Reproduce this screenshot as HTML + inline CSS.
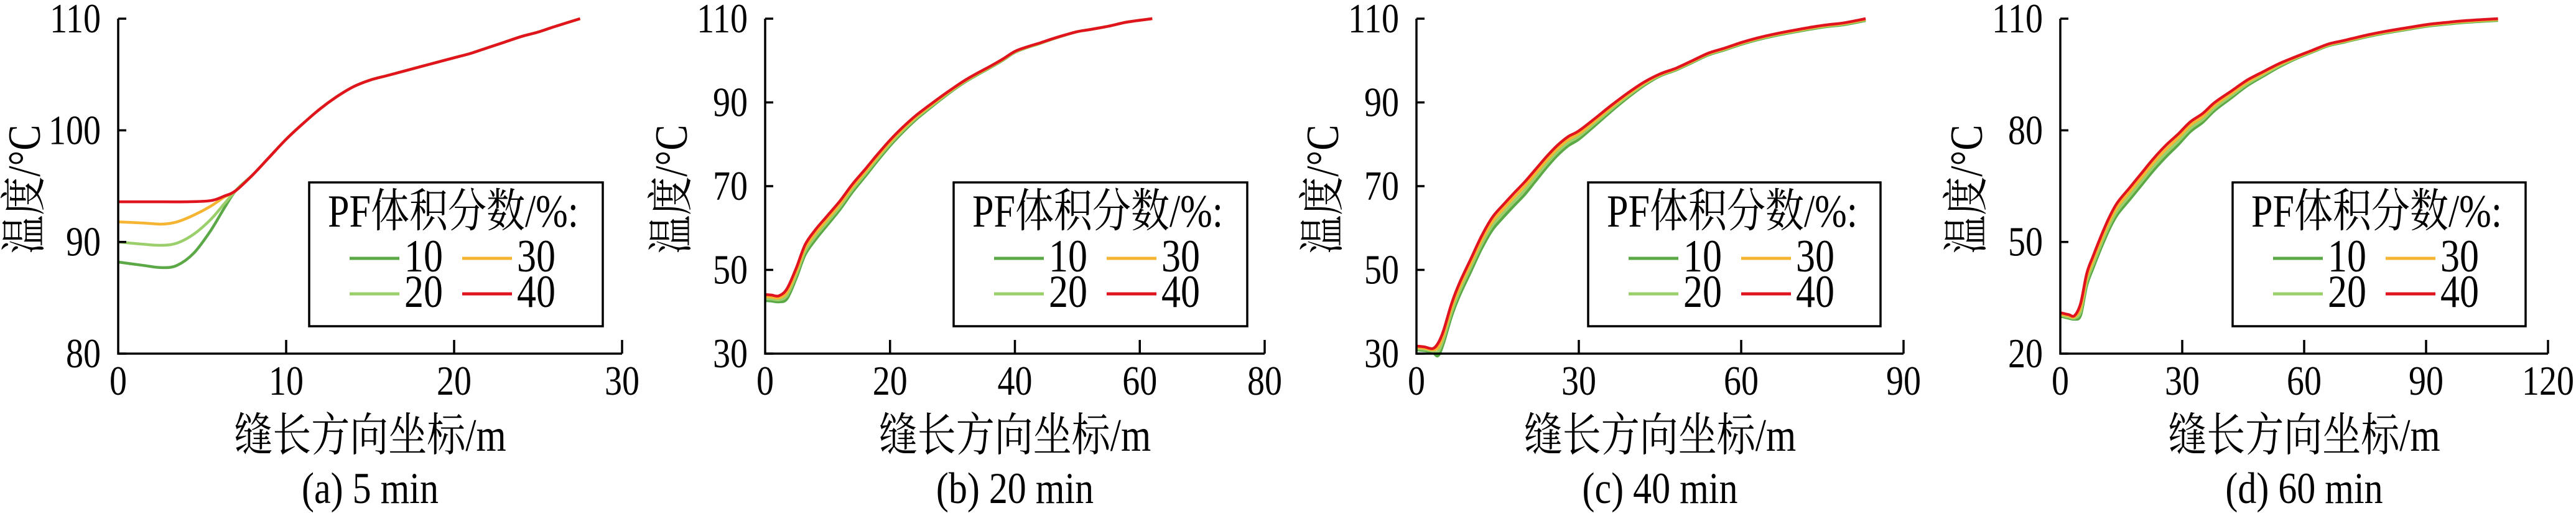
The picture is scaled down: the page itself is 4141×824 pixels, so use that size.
<!DOCTYPE html>
<html><head><meta charset="utf-8"><style>
html,body{margin:0;padding:0;background:#fff}
svg{display:block}
text{font-family:"Liberation Serif","Noto Serif CJK SC",serif;fill:#000}
</style></head><body>
<svg id="s" width="4141" height="824" viewBox="0 0 4141 824" xmlns="http://www.w3.org/2000/svg"></svg>
<script>
const S=document.getElementById('s');let h='';
const cols=['#5aa846','#9bcf6b','#f5b532','#e0141e'];
function T(x,y,fs,anchor,str,rot){const k=0.84;
 if(rot) return `<text transform="translate(${x},${y}) rotate(-90) scale(${k},1)" font-size="${fs/k}" text-anchor="${anchor}">${str}</text>`;
 return `<text transform="translate(${x},${y}) scale(${k},1)" font-size="${fs/k}" text-anchor="${anchor}">${str}</text>`;}
function cr(p){let d='M'+p[0][0].toFixed(1)+' '+p[0][1].toFixed(1);
for(let i=0;i<p.length-1;i++){const p0=p[i-1]||p[i],p1=p[i],p2=p[i+1],p3=p[i+2]||p2;
d+=' C'+(p1[0]+(p2[0]-p0[0])/6).toFixed(1)+' '+(p1[1]+(p2[1]-p0[1])/6).toFixed(1)+' '+(p2[0]-(p3[0]-p1[0])/6).toFixed(1)+' '+(p2[1]-(p3[1]-p1[1])/6).toFixed(1)+' '+p2[0].toFixed(1)+' '+p2[1].toFixed(1);}
return d;}
function panel(o){
 const X=v=>o.ax+v/o.xmax*(o.ar-o.ax), Y=v=>568-(v-o.ymin)/(o.ymax-o.ymin)*538;
 o.series.forEach((pts,k)=>{h+=`<path d="${cr(pts.map(q=>[X(q[0]),Y(q[1])]))}" fill="none" stroke="${cols[k]}" stroke-width="4.5" stroke-linejoin="round"/>`;});
 h+=`<path d="M${o.ax} 30 V568 H${o.ar}" fill="none" stroke="#000" stroke-width="3.5"/>`;
 o.yt.forEach(v=>{const y=Y(v);h+=`<line x1="${o.ax}" y1="${y}" x2="${o.ax+13}" y2="${y}" stroke="#000" stroke-width="3.5"/>`+T(o.ax-28,y+22,56,'end',v);});
 o.xt.forEach(v=>{const x=X(v);if(v>0)h+=`<line x1="${x}" y1="568" x2="${x}" y2="546" stroke="#000" stroke-width="3.5"/>`;h+=T(x,634,56,'middle',v);});
 const cx=(o.ax+o.ar)/2;
 h+=T(cx,724,62,'middle','缝长方向坐标/m');
 h+=T(cx,808,60,'middle',o.cap);
 h+=T(o.ax-126,304,62,'middle','温度/°C',true);
 const L=o.lx,R=o.lr;
 h+=`<rect x="${L}" y="293" width="${R-L}" height="231" fill="#fff" stroke="#000" stroke-width="3.5"/>`;
 h+=T(L+30,364,62,'start','PF体积分数/%:');
 const it=[[0,'10',0,0],[1,'20',0,1],[2,'30',1,0],[3,'40',1,1]];
 it.forEach(([k,t,c,r])=>{const x0=L+65+c*181,y=415+r*57;
 h+=`<line x1="${x0}" y1="${y}" x2="${x0+80}" y2="${y}" stroke="${cols[k]}" stroke-width="5"/>`+T(x0+88,y+21,62,'start',t);});
}
function shift(base,amt,f){return base.map(([x,y])=>[x,y-amt*f(x)]);}
const comA=[[7,94.6],[8,96],[9,97.6],[10,99.2],[11,100.6],[12,101.9],[13,103],[14,103.9],[15,104.5],[16,104.9],[17,105.3],[18,105.7],[19,106.1],[20,106.5],[21,106.9],[22,107.4],[23,107.9],[24,108.4],[25,108.8],[26,109.3],[27.5,110]];
panel({ax:190,ar:1000,xmax:30,ymin:80,ymax:110,yt:[80,90,100,110],xt:[0,10,20,30],lx:497,lr:969,cap:'(a) 5 min',series:[
 [[0,88.2],[1.5,87.9],[2.6,87.7],[3.5,87.9],[4.5,89],[5.5,91],[6.3,93]].concat(comA),
 [[0,90.0],[1.5,89.8],[2.6,89.7],[3.5,89.9],[4.5,90.7],[5.5,92.0],[6.3,93.4]].concat(comA),
 [[0,91.8],[1.5,91.7],[2.6,91.6],[3.5,91.8],[4.5,92.4],[5.5,93.2],[6.3,94]].concat(comA),
 [[0,93.6],[2,93.6],[4,93.6],[5.5,93.7],[6.3,94.1]].concat(comA)]});
const rb=[[0,44.1],[1,44],[2.2,43.8],[3.5,45.5],[5,50.5],[6.4,56],[8,59.5],[10,63],[12,66.5],[14,70.5],[16,74],[18,77.6],[20,81],[22,84],[24,86.7],[26,89],[28,91.2],[30,93.3],[32,95.3],[34,97],[36,98.6],[38,100.3],[40,102.2],[42,103.3],[44,104.2],[46,105.2],[48,106.1],[50,106.9],[52,107.4],[55,108.2],[58,109.2],[62,110]];
const fb=x=>x<3?0.6:(x<30?1-Math.max(0,(x-8)/22)*0.8:0.2*Math.max(0,1-(x-30)/20));
panel({ax:1230,ar:2033,xmax:80,ymin:30,ymax:110,yt:[30,50,70,90,110],xt:[0,20,40,60,80],lx:1533,lr:2005,cap:'(b) 20 min',
 series:[shift(rb,2.4,fb),shift(rb,1.6,fb),shift(rb,0.8,fb),rb]});
const rc=[[0,31.8],[1.5,31.6],[3,31.2],[4,32.5],[5,35.5],[6.5,42],[8,47],[10,52.5],[12,58],[14,62.5],[16,65.5],[18,68.3],[20,71],[22,74],[24,77],[26,79.7],[28,81.8],[30,83.2],[33,86.2],[36,89.3],[39,92.2],[42,94.8],[45,96.8],[48,98.2],[51,100],[54,101.8],[57,103],[60,104.3],[63,105.4],[66,106.3],[70,107.3],[75,108.4],[79,109],[83,110]];
const fc=x=>x<4?0.3:(x<20?1:Math.max(0.15,1-(x-20)/30));
panel({ax:2277,ar:3060,xmax:90,ymin:30,ymax:110,yt:[30,50,70,90,110],xt:[0,30,60,90],lx:2553,lr:3023,cap:'(c) 40 min',
 series:[shift(rc,3,fc),shift(rc,2,fc),shift(rc,1,fc),rc]});
const rd=[[0,31],[2,30.5],[3.5,30.2],[5,33.5],[6.5,41.5],[8,46],[10,51.5],[12,56.5],[14,60.5],[17,64.5],[20,68.5],[23,72.5],[26,76],[29,79],[32,82.3],[35,84.5],[38,87.5],[42,90.5],[46,93.5],[50,95.8],[54,98],[58,99.8],[62,101.5],[66,103.2],[70,104.2],[75,105.5],[80,106.6],[85,107.5],[90,108.4],[95,109],[100,109.5],[107.7,110]];
const fd=x=>x<4?0.3:(x<25?1:Math.max(0.15,1-(x-25)/40));
panel({ax:3312,ar:4096,xmax:120,ymin:20,ymax:110,yt:[20,50,80,110],xt:[0,30,60,90,120],lx:3589,lr:4060,cap:'(d) 60 min',
 series:[shift(rd,3.2,fd),shift(rd,2.2,fd),shift(rd,1.1,fd),rd]});
S.innerHTML=h;
</script>
</body></html>
